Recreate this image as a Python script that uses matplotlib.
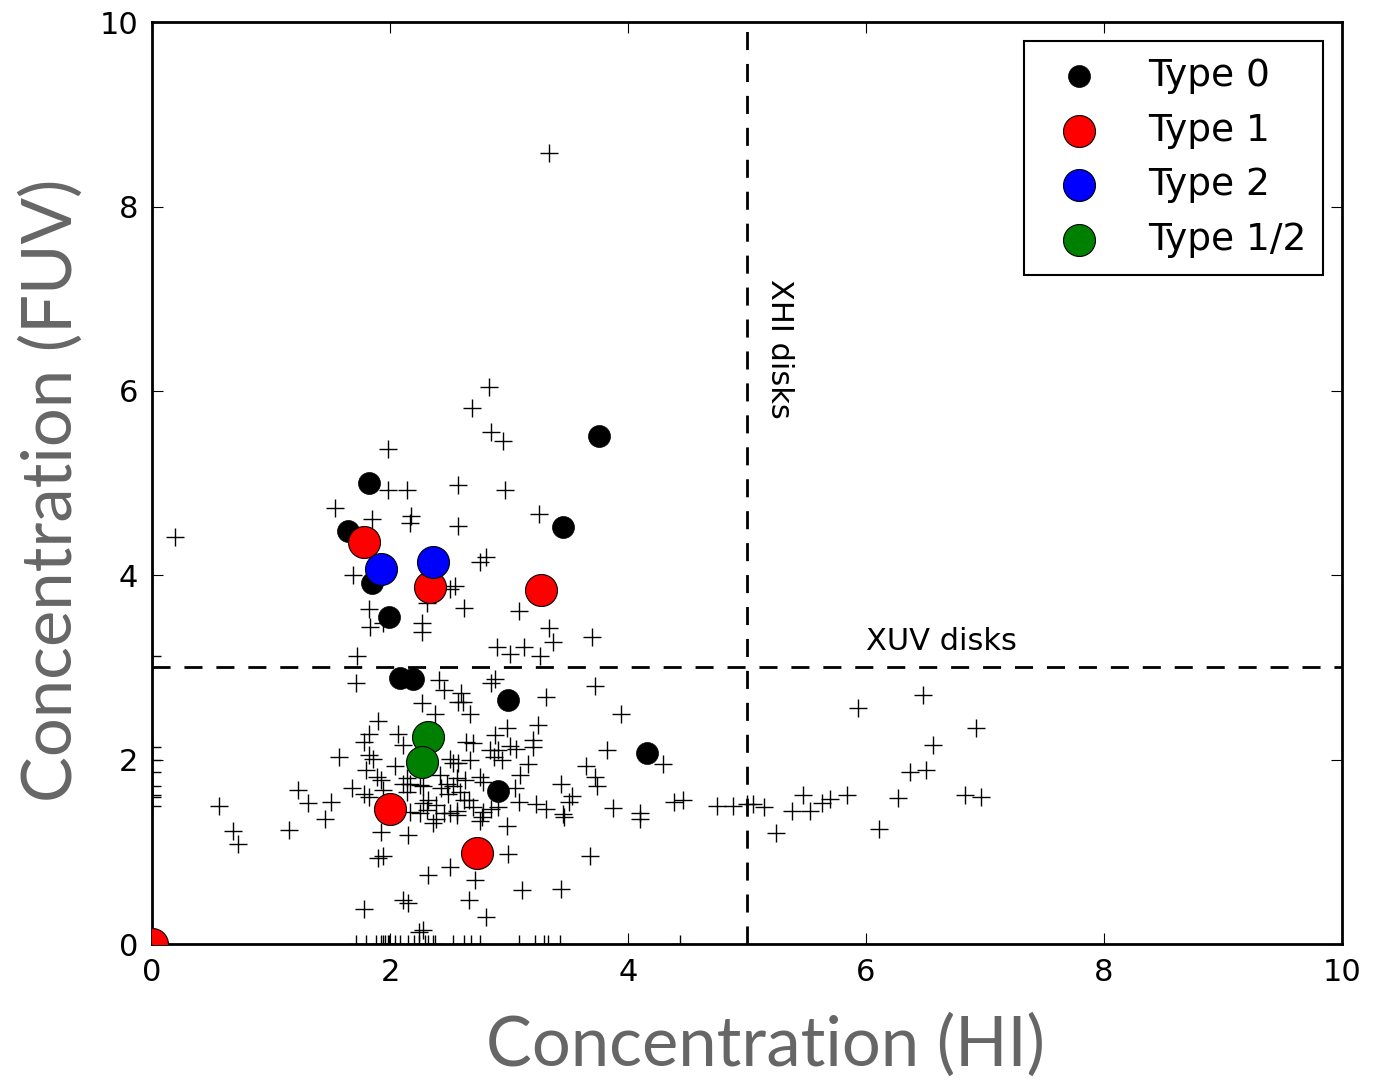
import matplotlib
matplotlib.use("Agg")
import matplotlib.pyplot as plt

#---------------------------
# DATA
#---------------------------
# whole sample, drawn as '+'
CROSS_HI = [
    3.34, 2.83, 2.69, 2.85, 2.95, 1.98, 2.57, 2.97, 1.98, 2.14,
    1.54, 3.25, 1.85, 2.18, 2.17, 2.57, 0.19, 2.76, 2.81, 1.69,
    2.55, 2.50, 2.62, 3.08, 1.82, 2.31, 1.83, 1.94, 2.27, 2.27,
    3.34, 3.37, 3.70, 2.90, 3.01, 3.13, 3.26, 1.72, 0.00,
    1.71, 2.41, 2.45, 2.88, 2.85, 2.60, 2.61, 2.57, 2.67, 3.31,
    3.72, 3.94, 2.27, 2.38, 1.90, 1.82, 1.78, 2.07, 2.11, 3.24,
    2.98, 2.88, 2.64, 2.70, 3.20, 3.20, 3.01, 3.06, 2.84, 2.91,
    3.82, 1.57, 1.82, 1.86, 2.50, 2.53, 2.57, 2.67, 2.87, 2.94,
    3.16, 3.65, 4.29, 1.80, 2.04, 1.89, 1.92, 2.14, 2.17, 2.25,
    2.42, 2.48, 2.56, 2.63, 2.76, 2.78, 3.09, 3.05, 3.44, 3.72,
    3.74, 1.68, 1.78, 1.82, 1.94, 2.11, 2.14, 2.28, 2.43, 2.49,
    2.53, 2.59, 1.23, 1.31, 1.50, 1.45, 1.15, 0.56, 0.68, 0.72,
    2.32, 2.28, 2.31, 2.25, 2.39, 2.36, 2.39, 2.45, 2.50, 2.56,
    2.56, 2.62, 2.66, 2.70, 2.78, 2.85, 2.91, 2.76, 2.77, 2.98,
    2.17, 3.08, 3.23, 3.31, 3.45, 3.46, 3.53, 3.50, 3.87, 4.10,
    4.10, 4.39, 4.46, 4.75, 4.88, 5.00, 5.05, 5.14, 5.24, 5.38,
    5.47, 5.53, 5.63, 5.70, 5.84, 5.93, 6.11, 6.27, 6.48, 6.56,
    6.37, 6.50, 6.92, 6.83, 6.97, 1.92, 2.15, 1.90, 1.94, 2.32,
    2.50, 2.99, 3.68, 2.71, 3.11, 3.44, 2.66, 2.81, 1.78, 2.11,
    2.15, 2.24, 2.28,
    0.00, 0.00, 0.00, 0.00, 0.00, 0.00, 0.00,
    1.71, 1.80, 1.88, 1.92, 1.94, 1.96, 1.98, 1.99, 2.04, 2.08,
    2.15, 2.20, 2.24, 2.29, 2.32, 2.36, 2.38, 2.53, 2.62, 2.68,
    2.76, 3.08, 3.22, 3.29, 3.33, 3.43, 4.44,
]
CROSS_FUV = [
    8.58, 6.04, 5.82, 5.55, 5.46, 5.37, 4.98, 4.92, 4.93, 4.93,
    4.73, 4.66, 4.61, 4.64, 4.57, 4.53, 4.42, 4.14, 4.20, 4.00,
    3.88, 3.85, 3.65, 3.61, 3.63, 3.70, 3.44, 3.48, 3.48, 3.39,
    3.43, 3.28, 3.33, 3.22, 3.15, 3.22, 3.13, 3.13, 3.13,
    2.83, 2.86, 2.76, 2.88, 2.83, 2.72, 2.63, 2.63, 2.50, 2.68,
    2.80, 2.50, 2.61, 2.50, 2.42, 2.28, 2.19, 2.28, 2.16, 2.38,
    2.34, 2.27, 2.19, 2.18, 2.21, 2.14, 2.15, 2.12, 2.10, 2.10,
    2.10, 2.03, 2.05, 2.01, 2.01, 1.96, 1.96, 2.00, 2.03, 2.00,
    1.95, 1.93, 1.95, 1.89, 1.93, 1.81, 1.78, 1.80, 1.74, 1.72,
    1.83, 1.74, 1.80, 1.78, 1.81, 1.76, 1.83, 1.69, 1.74, 1.81,
    1.71, 1.69, 1.63, 1.60, 1.67, 1.74, 1.65, 1.71, 1.69, 1.63,
    1.71, 1.65, 1.67, 1.53, 1.54, 1.36, 1.24, 1.50, 1.23, 1.09,
    1.56, 1.53, 1.45, 1.42, 1.51, 1.31, 1.36, 1.42, 1.42, 1.44,
    1.40, 1.56, 1.56, 1.49, 1.43, 1.47, 1.49, 1.33, 1.38, 1.28,
    1.43, 1.54, 1.52, 1.46, 1.41, 1.38, 1.61, 1.54, 1.48, 1.42,
    1.36, 1.54, 1.56, 1.50, 1.50, 1.52, 1.52, 1.49, 1.20, 1.44,
    1.62, 1.44, 1.53, 1.57, 1.62, 2.56, 1.25, 1.58, 2.70, 2.16,
    1.87, 1.89, 2.34, 1.62, 1.60, 1.22, 1.18, 0.93, 0.95, 0.75,
    0.84, 0.98, 0.95, 0.70, 0.59, 0.60, 0.48, 0.29, 0.38, 0.48,
    0.45, 0.13, 0.15,
    2.14, 2.00, 1.87, 1.71, 1.62, 1.60, 1.50,
    0.0, 0.0, 0.0, 0.0, 0.0, 0.0, 0.0, 0.0, 0.0, 0.0,
    0.0, 0.0, 0.0, 0.0, 0.0, 0.0, 0.0, 0.0, 0.0, 0.0,
    0.0, 0.0, 0.0, 0.0, 0.0, 0.0, 0.0,
]

TYPE0_HI = [1.82, 1.65, 1.85, 1.99, 2.08, 2.19, 2.99, 3.76, 3.45, 4.16, 2.91]
TYPE0_FUV = [5.00, 4.48, 3.92, 3.55, 2.89, 2.87, 2.65, 5.51, 4.52, 2.07, 1.66]

TYPE1_HI = [1.78, 2.34, 3.27, 2.00, 2.73, 0.00]
TYPE1_FUV = [4.36, 3.87, 3.84, 1.46, 0.99, 0.00]

TYPE2_HI = [1.92, 2.36]
TYPE2_FUV = [4.07, 4.14]

TYPE12_HI = [2.32, 2.27]
TYPE12_FUV = [2.25, 1.98]

XHI_LIMIT = 5.0
XUV_LIMIT = 3.0
TICKS = [0, 2, 4, 6, 8, 10]

#---------------------------
# FIGURE
#---------------------------
fig = plt.figure(figsize=(13.87, 10.82), dpi=100)
ax = fig.add_axes([0.1096, 0.1275, 0.858, 0.852])

ax.scatter(CROSS_HI, CROSS_FUV, marker='+', s=150, c='black', linewidths=1.0, zorder=2)
ax.scatter(TYPE0_HI, TYPE0_FUV, s=250, c='black', edgecolors='black', linewidths=0.5, label='Type 0', zorder=3)
ax.scatter(TYPE1_HI, TYPE1_FUV, s=530, c='red', edgecolors='black', linewidths=0.8, label='Type 1', zorder=4)
ax.scatter(TYPE2_HI, TYPE2_FUV, s=530, c='blue', edgecolors='black', linewidths=0.8, label='Type 2', zorder=5)
ax.scatter(TYPE12_HI, TYPE12_FUV, s=530, c='green', edgecolors='black', linewidths=0.8, label='Type 1/2', zorder=6)

# limits of the extended disks
ax.axvline(XHI_LIMIT, color='black', lw=2, ls=(0, (6.5, 5)), zorder=1)
ax.axhline(XUV_LIMIT, color='black', lw=2, ls=(0, (6.5, 5)), zorder=1)
ax.text(6.0, 3.13, "XUV disks", fontsize=22, ha='left', va='bottom')
ax.text(5.27, 6.46, "XHI disks", fontsize=22, rotation=270, ha='center', va='center')

ax.set_xlim(0, 10)
ax.set_ylim(0, 10)
ax.set_xticks(TICKS)
ax.set_yticks(TICKS)
ax.tick_params(direction='in', length=8, width=0.8, top=True, right=True,
               labelsize=22, pad=10)
for sp in ax.spines.values():
    sp.set_linewidth(2)

leg = ax.legend(loc='upper right', fontsize=27, scatterpoints=1, fancybox=False,
                framealpha=1, edgecolor='black', borderpad=0.45, labelspacing=0.5,
                handletextpad=0.85, borderaxespad=0.5)
leg.get_frame().set_linewidth(1.5)

# axis titles in a grey sans face
fig.text(0.552, 0.034, "Concentration (HI)", fontsize=49.5, family='Lato',
         color='#666666', ha='center', va='center')
fig.text(0.0368, 0.547, "Concentration (FUV)", fontsize=49.5, family='Lato',
         color='#666666', ha='center', va='center', rotation=90)

fig.savefig("out.png", dpi=100)
